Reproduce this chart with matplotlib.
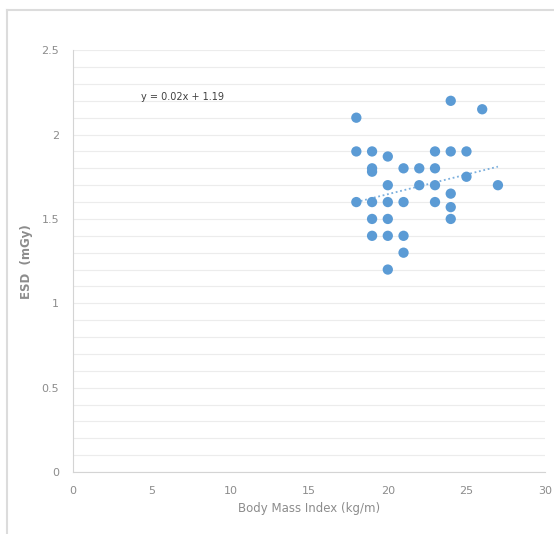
import numpy as np
import matplotlib.pyplot as plt
from matplotlib.lines import Line2D

# BMI (kg/m) vs ESD (mGy)
bmi = [18, 18, 18,
       19, 19, 19, 19, 19, 19,
       20, 20, 20, 20, 20, 20,
       21, 21, 21, 21,
       22, 22,
       23, 23, 23, 23,
       24, 24, 24, 24, 24,
       25, 25,
       26, 27]
esd = [2.10, 1.90, 1.60,
       1.90, 1.80, 1.78, 1.60, 1.50, 1.40,
       1.87, 1.70, 1.60, 1.50, 1.40, 1.20,
       1.80, 1.60, 1.40, 1.30,
       1.80, 1.70,
       1.90, 1.80, 1.70, 1.60,
       2.20, 1.90, 1.65, 1.57, 1.50,
       1.90, 1.75,
       2.15, 1.70]

# trendline as drawn (end points at BMI 18 and 27)
trend_x = [18, 27]
trend_y = [1.60, 1.81]
eq_label = 'y = 0.02x + 1.19'

blue = '#5B9BD5'
grey = '#8c8c8c'

fig = plt.figure(figsize=(5.54, 5.34), dpi=100)
ax = fig.add_axes([0.132, 0.116, 0.852, 0.79])

ax.scatter(bmi, esd, s=55, color=blue, zorder=3, edgecolors='none')
ax.plot(trend_x, trend_y, ls=(0, (1, 1.5)), color=blue, lw=1.3, alpha=0.8, zorder=2)

ax.set_xlim(0, 30)
ax.set_ylim(0, 2.5)
ax.set_xticks(range(0, 31, 5))
ax.set_yticks([0, 0.5, 1, 1.5, 2, 2.5])
ax.set_yticklabels(['0', '0.5', '1', '1.5', '2', '2.5'])
ax.set_yticks(np.arange(0, 2.51, 0.1), minor=True)
ax.grid(axis='y', which='both', color='#ececec', lw=0.8)
ax.set_axisbelow(True)

for s in ['top', 'right']:
    ax.spines[s].set_visible(False)
for s in ['left', 'bottom']:
    ax.spines[s].set_color('#d4d4d4')
ax.tick_params(which='both', length=0, colors=grey, labelsize=8, pad=10)

ax.set_xlabel('Body Mass Index (kg/m)', color=grey, fontsize=8.5, labelpad=4)
ax.set_ylabel('ESD  (mGy)', color=grey, fontsize=8.5, labelpad=6, fontweight='bold')

ax.text(4.3, 2.22, eq_label, fontsize=7, color='#404040', va='center')

# light frame around the picture
fig.add_artist(Line2D([0.013, 1.0], [0.982, 0.982], color='#dcdcdc', lw=1.5))
fig.add_artist(Line2D([0.013, 0.013], [0.0, 0.982], color='#dcdcdc', lw=1.5))

fig.savefig('out.png', dpi=100)
